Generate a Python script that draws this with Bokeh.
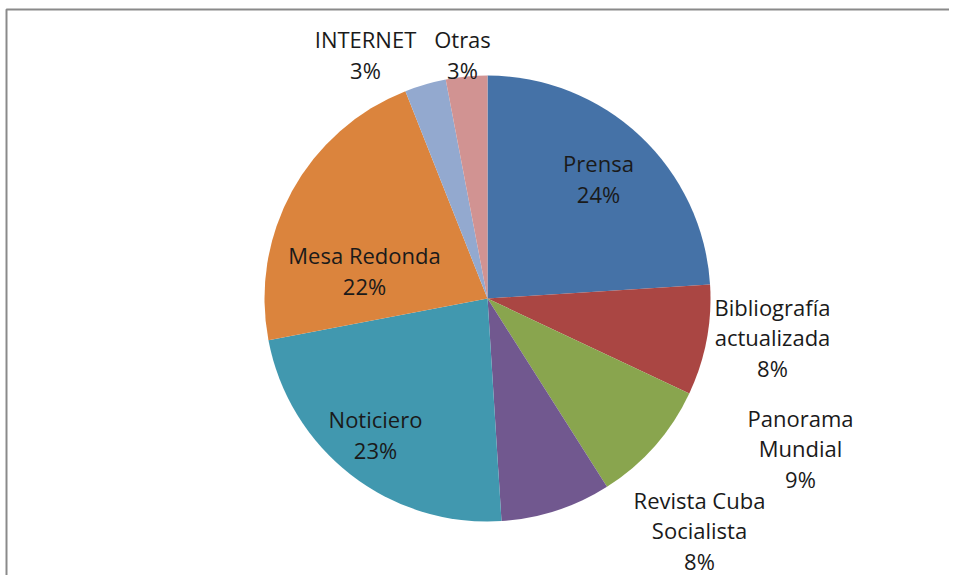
import math
from bokeh.plotting import figure
from bokeh.models import Range1d, ColumnDataSource
from bokeh.core.properties import value
from bokeh.embed import file_html
from bokeh.resources import INLINE

# ---- data ----
categories = ["Prensa", "Bibliografía\nactualizada", "Panorama\nMundial",
              "Revista Cuba\nSocialista", "Noticiero", "Mesa Redonda",
              "INTERNET", "Otras"]
percentages = [24, 8, 9, 8, 23, 22, 3, 3]
colors = ["#4572A7", "#AA4643", "#89A54E", "#71588F",
          "#4198AF", "#DB843D", "#93A9CF", "#D19392"]

# ---- layout (pixel-like data space) ----
W, H = 949, 575
CX, CY, R = 487, 277, 223
# label anchor offsets from pie centre (dx, dy up-positive)
label_offsets = [(111, 120), (285, -39), (313, -150), (212, -232),
                 (-112, -136), (-123, 28), (-122, 244), (-25, 244)]

total = float(sum(percentages))
starts, ends = [], []
a = math.pi / 2
for v in percentages:
    starts.append(a)
    a -= v / total * 2 * math.pi
    ends.append(a)

src = ColumnDataSource(dict(
    x=[CX] * len(percentages), y=[CY] * len(percentages),
    start=starts, end=ends, color=colors,
))

p = figure(width=W, height=H, output_backend="svg", toolbar_location=None,
           x_range=Range1d(0, W), y_range=Range1d(0, H),
           x_axis_type=None, y_axis_type=None, min_border=0)
p.grid.visible = False
p.outline_line_color = None
p.background_fill_color = "white"
p.border_fill_color = "white"

# wedges: start -> end going clockwise
p.wedge(x="x", y="y", radius=R, start_angle="end", end_angle="start",
        fill_color="color", line_color=None, source=src)

labels = [f"{c}\n{v}%" for c, v in zip(categories, percentages)]
lx = [CX + dx for dx, dy in label_offsets]
ly = [CY + dy for dx, dy in label_offsets]
p.text(x=lx, y=ly, text=labels, text_align="center", text_baseline="middle",
       text_font=value("Open Sans"), text_font_size="22px", text_line_height=1.03,
       text_color="#1a1a1a")

# chart frame (left and top edges visible)
p.line(x=[6, 6, W + 5], y=[0, H - 9, H - 9], line_color="#8a8a8a", line_width=2)

open("out.html", "w").write(file_html(p, INLINE))
